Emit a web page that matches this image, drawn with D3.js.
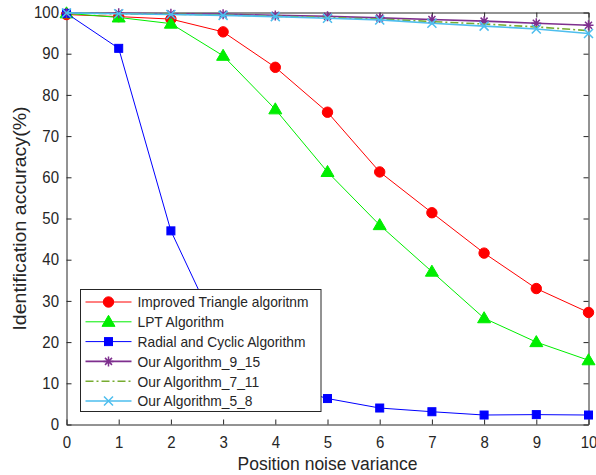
<!DOCTYPE html>
<html>
<head>
<meta charset="utf-8">
<script src="https://cdn.jsdelivr.net/npm/d3@7"></script>
<style>
  body { margin: 0; background: #fff; }
  svg text { font-family: "Liberation Sans", Arial, sans-serif; fill: #262626; }
</style>
</head>
<body>
<svg id="chart" width="596" height="475"></svg>
<script>
// Noise variance levels on the x axis
const variance = [0, 1, 2, 3, 4, 5, 6, 7, 8, 9, 10];
const xTicks = [0, 1, 2, 3, 4, 5, 6, 7, 8, 9, 10];
const yTicks = [0, 10, 20, 30, 40, 50, 60, 70, 80, 90, 100];

// Identification accuracy (%) for each method
const improvedTriangle = [99.5, 99.0, 98.4, 95.3, 86.7, 75.8, 61.3, 51.4, 41.6, 33.0, 27.2];
const lptAlgorithm     = [99.8, 98.8, 97.3, 89.5, 76.5, 61.3, 48.4, 37.1, 25.8, 20.0, 15.6];
const radialCyclic     = [99.8, 91.3, 47.0, 20.0, 10.0, 6.3, 4.0, 3.1, 2.3, 2.4, 2.3];
const ours_9_15        = [99.9, 99.8, 99.7, 99.6, 99.3, 99.1, 98.7, 98.3, 97.9, 97.4, 96.9];
const ours_7_11        = [99.9, 99.7, 99.6, 99.4, 99.1, 98.8, 98.4, 97.8, 97.2, 96.5, 95.6];
const ours_5_8         = [99.9, 99.7, 99.5, 99.3, 99.0, 98.6, 98.2, 97.4, 96.7, 96.0, 94.9];

const seriesNames = ["Improved Triangle algoritnm", "LPT Algorithm", "Radial and Cyclic Algorithm",
                     "Our Algorithm_9_15", "Our Algorithm_7_11", "Our Algorithm_5_8"];

const series = [
  { name: seriesNames[0], values: improvedTriangle, color: "#ff0000", marker: "circle", dash: null, width: 1 },
  { name: seriesNames[1], values: lptAlgorithm, color: "#00ee00", marker: "triangle", dash: null, width: 1 },
  { name: seriesNames[2], values: radialCyclic, color: "#0000ff", marker: "square", dash: null, width: 1 },
  { name: seriesNames[3], values: ours_9_15, color: "#7e2f8e", marker: "asterisk", dash: null, width: 1.6 },
  { name: seriesNames[4], values: ours_7_11, color: "#77ac30", marker: null, dash: "8,3,2,3", width: 1.6 },
  { name: seriesNames[5], values: ours_5_8, color: "#4dbeee", marker: "cross", dash: null, width: 1.6 }
];

const svg = d3.select("#chart");
const margin = { left: 66.5, right: 7.5, top: 12.5, bottom: 50.5 };
const W = 596, H = 475;
const x = d3.scaleLinear().domain([0, 10]).range([margin.left, W - margin.right]);
const y = d3.scaleLinear().domain([0, 100]).range([H - margin.bottom, margin.top]);

const axisColor = "#262626";
const tickLen = 5;
const stretch = 1.1; // text is drawn slightly taller than wide

// Axes with inward ticks on all four sides
const gx = svg.append("g").attr("transform", `translate(0,${y(0)})`)
  .call(d3.axisBottom(x).tickValues(xTicks).tickSizeInner(-tickLen).tickSizeOuter(0).tickPadding(11));
const gxTop = svg.append("g").attr("transform", `translate(0,${y(100)})`)
  .call(d3.axisTop(x).tickValues(xTicks).tickSizeInner(-tickLen).tickSizeOuter(0).tickFormat(""));
const gy = svg.append("g").attr("transform", `translate(${x(0)},0)`)
  .call(d3.axisLeft(y).tickValues(yTicks).tickSizeInner(-tickLen).tickSizeOuter(0).tickPadding(7.5));
const gyRight = svg.append("g").attr("transform", `translate(${x(10)},0)`)
  .call(d3.axisRight(y).tickValues(yTicks).tickSizeInner(-tickLen).tickSizeOuter(0).tickFormat(""));

[gx, gxTop, gy, gyRight].forEach(g => {
  g.select(".domain").attr("stroke", axisColor).attr("stroke-width", 1);
  g.selectAll(".tick line").attr("stroke", axisColor);
  g.selectAll(".tick text").attr("font-size", 15).attr("fill", axisColor)
    .attr("font-family", "'Liberation Sans', Arial, sans-serif")
    .attr("transform", `scale(1,${stretch})`);
});

// Axis titles
svg.append("text")
  .attr("transform", `translate(${(x(0) + x(10)) / 2},470) scale(1,${stretch})`)
  .attr("text-anchor", "middle").attr("font-size", 17.5)
  .text("Position noise variance");
svg.append("text")
  .attr("transform", `translate(26,${(y(0) + y(100)) / 2}) rotate(-90) scale(1.12,1)`)
  .attr("text-anchor", "middle").attr("font-size", 17.5)
  .text("Identification accuracy(%)");

// Marker drawing helper
function drawMarker(g, type, cx, cy, color) {
  if (type === "circle") {
    g.append("circle").attr("cx", cx).attr("cy", cy).attr("r", 5.2).attr("fill", color).attr("stroke", color);
  } else if (type === "triangle") {
    const s = 6.5;
    g.append("path").attr("d", `M${cx},${cy - s}L${cx + s},${cy + s * 0.7}L${cx - s},${cy + s * 0.7}Z`)
      .attr("fill", color).attr("stroke", color);
  } else if (type === "square") {
    g.append("rect").attr("x", cx - 4).attr("y", cy - 4).attr("width", 8).attr("height", 8)
      .attr("fill", color).attr("stroke", color);
  } else if (type === "asterisk") {
    const s = 5;
    const d = `M${cx - s},${cy}L${cx + s},${cy}M${cx},${cy - s}L${cx},${cy + s}` +
      `M${cx - s * 0.7},${cy - s * 0.7}L${cx + s * 0.7},${cy + s * 0.7}` +
      `M${cx - s * 0.7},${cy + s * 0.7}L${cx + s * 0.7},${cy - s * 0.7}`;
    g.append("path").attr("d", d).attr("stroke", color).attr("stroke-width", 1.5).attr("fill", "none");
  } else if (type === "cross") {
    const s = 4.5;
    const d = `M${cx - s},${cy - s}L${cx + s},${cy + s}M${cx - s},${cy + s}L${cx + s},${cy - s}`;
    g.append("path").attr("d", d).attr("stroke", color).attr("stroke-width", 1.5).attr("fill", "none");
  }
}

const line = d3.line().x((d, i) => x(variance[i])).y(d => y(d));
const plot = svg.append("g");

series.forEach(s => {
  const g = plot.append("g");
  g.append("path").datum(s.values).attr("d", line)
    .attr("fill", "none").attr("stroke", s.color)
    .attr("stroke-width", s.width)
    .attr("stroke-dasharray", s.dash);
  if (s.marker) {
    s.values.forEach((v, i) => drawMarker(g, s.marker, x(variance[i]), y(v), s.color));
  }
});

// Legend box
const lg = svg.append("g");
const lx = 80.5, ly = 289.5, lw = 240.5, lh = 122;
lg.append("rect").attr("x", lx).attr("y", ly).attr("width", lw).attr("height", lh)
  .attr("fill", "#fff").attr("stroke", axisColor).attr("stroke-width", 1);
series.forEach((s, i) => {
  const cy = ly + 12.5 + i * 19.8;
  lg.append("line").attr("x1", lx + 5).attr("x2", lx + 51).attr("y1", cy).attr("y2", cy)
    .attr("stroke", s.color)
    .attr("stroke-width", s.width)
    .attr("stroke-dasharray", s.dash);
  if (s.marker) drawMarker(lg, s.marker, lx + 28, cy, s.color);
  lg.append("text").attr("transform", `translate(${lx + 57},${cy}) scale(1,${stretch})`)
    .attr("dy", "0.35em")
    .attr("font-size", 13.8).attr("fill", "#000").text(s.name);
});
</script>
</body>
</html>
